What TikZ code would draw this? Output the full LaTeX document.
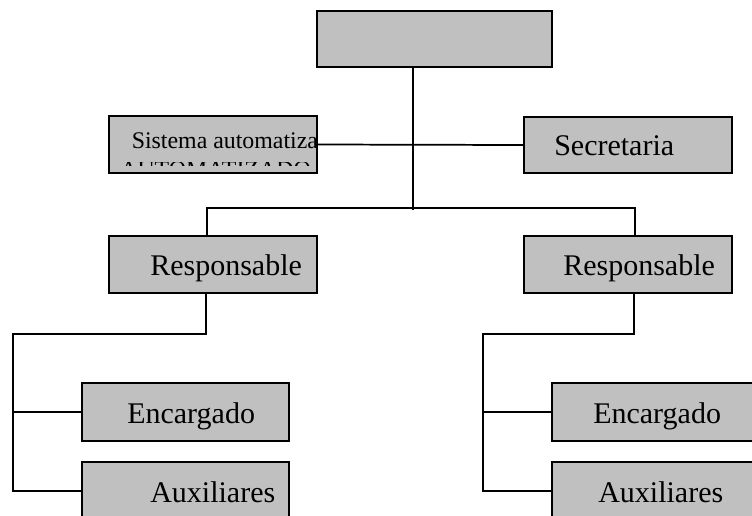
\documentclass[tikz,border=0pt]{standalone}
\usepackage{fontspec}
\setmainfont{Liberation Serif}
\definecolor{gris}{RGB}{192,192,192}
\begin{document}
\begin{tikzpicture}[x=0.75pt, y=-0.75pt]
  % Rahmen.
  \clip (0, 0) rectangle (752, 515);

  % Cajas.
  \tikzstyle{caja}=[rectangle, draw, line width=1.3pt, fill=gris, inner sep=0pt]
  \tikzstyle{texto}=[anchor=base west, inner sep=0pt, font=\fontsize{22.5}{27}\selectfont]

  \node[caja, minimum width=176pt, minimum height=42pt] (jefe) at (434.5, 39) {};
  \node[caja, minimum width=156pt, minimum height=43pt] (sistema) at (213, 144.5) {};
  \node[caja, minimum width=156pt, minimum height=42pt] (secretaria) at (628, 145) {};
  \node[caja, minimum width=156pt, minimum height=43pt] (respL) at (213, 264.5) {};
  \node[caja, minimum width=156pt, minimum height=43pt] (respR) at (628, 264.5) {};
  \node[caja, minimum width=155pt, minimum height=43pt] (encL) at (185.5, 412) {};
  \node[caja, minimum width=155pt, minimum height=43pt] (auxL) at (185.5, 491) {};
  \node[caja, minimum width=155pt, minimum height=43pt] (encR) at (655.5, 412) {};
  \node[caja, minimum width=155pt, minimum height=43pt] (auxR) at (655.5, 491) {};

  % Textos.
  \node[texto, font=\fontsize{17.9}{21}\selectfont] (tsistema) at (131.5, 148) {Sistema automatiza};
  \begin{scope}
    \clip (109, 162) rectangle (318, 165);
    \node[texto, font=\fontsize{17.9}{21}\selectfont] (tauto) at (120, 177.5) {AUTOMATIZADO};
  \end{scope}
  \node[texto] (tsecretaria) at (554, 155) {Secretaria};
  \node[texto] (trespL) at (150, 275) {Responsable};
  \node[texto] (trespR) at (563, 275) {Responsable};
  \node[texto] (tencL) at (127, 423) {Encargado};
  \node[texto] (tencR) at (593, 423) {Encargado};
  \node[texto] (tauxL) at (150, 502) {Auxiliares};
  \node[texto] (tauxR) at (598, 502) {Auxiliares};

  % Lineas.
  \tikzstyle{linea}=[line width=1.3pt]

  \coordinate (tronco) at (413, 210);
  \coordinate (ramaL) at (207, 208);
  \coordinate (ramaR) at (635, 208);
  \coordinate (codoL) at (206, 334);
  \coordinate (ejeL) at (13, 334);
  \coordinate (codoR) at (634, 334);
  \coordinate (ejeR) at (483, 334);

  \draw[linea] (jefe.south -| tronco) -- (tronco);
  \draw[linea] (sistema.east) -- (secretaria.west);
  \draw[linea] (respL.north -| ramaL) -- (ramaL) -- (ramaR) -- (respR.north -| ramaR);

  \draw[linea] (respL.south -| codoL) -- (codoL) -- (ejeL) -- ++(0, 158);
  \draw[linea] (ejeL |- encL.west) -- (encL.west);
  \draw[linea] (ejeL |- auxL.west) -- (auxL.west);

  \draw[linea] (respR.south -| codoR) -- (codoR) -- (ejeR) -- ++(0, 158);
  \draw[linea] (ejeR |- encR.west) -- (encR.west);
  \draw[linea] (ejeR |- auxR.west) -- (auxR.west);
\end{tikzpicture}
\end{document}
